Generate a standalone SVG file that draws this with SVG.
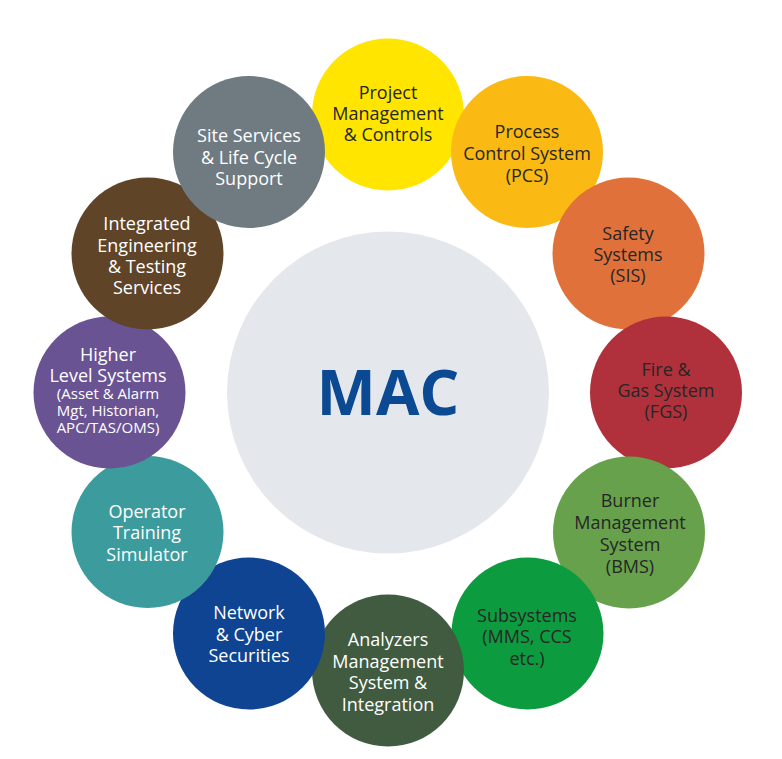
<svg xmlns="http://www.w3.org/2000/svg" width="782" height="759" viewBox="0 0 782 759">
<style>
text{font-family:"Open Sans","Noto Sans","Liberation Sans",sans-serif;font-size:18px;text-anchor:middle}
.dk{fill:#262626}
.lt{fill:#ffffff}
.sm{font-size:15px}
.mac{font-size:63px;font-weight:bold;fill:#0b4a92}
</style>
<rect width="782" height="759" fill="#ffffff"/>
<g id="mac">
<circle cx="388" cy="392.5" r="161" fill="#e4e8ec"/>
<text class="mac" x="388" y="415">MAC</text>
</g>
<g id="project-management">
<circle cx="388" cy="114.5" r="76" fill="#ffe500"/>
<text class="dk" x="388" y="99">Project</text>
<text class="dk" x="388" y="120">Management</text>
<text class="dk" x="388" y="141">&amp; Controls</text>
</g>
<g id="pcs">
<circle cx="527" cy="152" r="76" fill="#fbb913"/>
<text class="dk" x="527" y="138">Process</text>
<text class="dk" x="527" y="160">Control System</text>
<text class="dk" x="527" y="182">(PCS)</text>
</g>
<g id="sis">
<circle cx="628.5" cy="253.5" r="76" fill="#e1713a"/>
<text class="dk" x="628" y="240">Safety</text>
<text class="dk" x="628" y="261">Systems</text>
<text class="dk" x="628" y="282">(SIS)</text>
</g>
<g id="fgs">
<circle cx="666" cy="392.5" r="76" fill="#b0313b"/>
<text class="dk" x="666" y="376">Fire &amp;</text>
<text class="dk" x="666" y="397">Gas System</text>
<text class="dk" x="666" y="418">(FGS)</text>
</g>
<g id="bms">
<circle cx="629" cy="532.5" r="76" fill="#67a14b"/>
<text class="dk" x="630" y="507">Burner</text>
<text class="dk" x="630" y="529">Management</text>
<text class="dk" x="630" y="551">System</text>
<text class="dk" x="630" y="573">(BMS)</text>
</g>
<g id="subsystems">
<circle cx="527.5" cy="633.5" r="76" fill="#0d9b3f"/>
<text class="dk" x="527" y="622">Subsystems</text>
<text class="dk" x="527" y="643">(MMS, CCS</text>
<text class="dk" x="527" y="665">etc.)</text>
</g>
<g id="analyzers">
<circle cx="388" cy="670.5" r="76" fill="#415b40"/>
<text class="lt" x="388" y="646">Analyzers</text>
<text class="lt" x="388" y="668">Management</text>
<text class="lt" x="388" y="689">System &amp;</text>
<text class="lt" x="388" y="711">Integration</text>
</g>
<g id="network">
<circle cx="249" cy="633.5" r="76" fill="#0e4491"/>
<text class="lt" x="249" y="619">Network</text>
<text class="lt" x="249" y="641">&amp; Cyber</text>
<text class="lt" x="249" y="662">Securities</text>
</g>
<g id="operator-training">
<circle cx="147.5" cy="532" r="76" fill="#3c9b9c"/>
<text class="lt" x="147" y="518">Operator</text>
<text class="lt" x="147" y="539">Training</text>
<text class="lt" x="147" y="561">Simulator</text>
</g>
<g id="higher-level">
<circle cx="109.5" cy="392.5" r="76" fill="#6a5393"/>
<text class="lt" x="108" y="361">Higher</text>
<text class="lt" x="108" y="382">Level Systems</text>
<text class="lt sm" x="108" y="399">(Asset &amp; Alarm</text>
<text class="lt sm" x="108" y="416">Mgt, Historian,</text>
<text class="lt sm" x="108" y="433">APC/TAS/OMS)</text>
</g>
<g id="integrated-engineering">
<circle cx="147.5" cy="253.5" r="76" fill="#5f4428"/>
<text class="lt" x="147" y="230">Integrated</text>
<text class="lt" x="147" y="252">Engineering</text>
<text class="lt" x="147" y="273">&amp; Testing</text>
<text class="lt" x="147" y="294">Services</text>
</g>
<g id="site-services">
<circle cx="249" cy="152" r="76" fill="#6f7b81"/>
<text class="lt" x="249" y="142">Site Services</text>
<text class="lt" x="249" y="164">&amp; Life Cycle</text>
<text class="lt" x="249" y="185">Support</text>
</g>
</svg>
